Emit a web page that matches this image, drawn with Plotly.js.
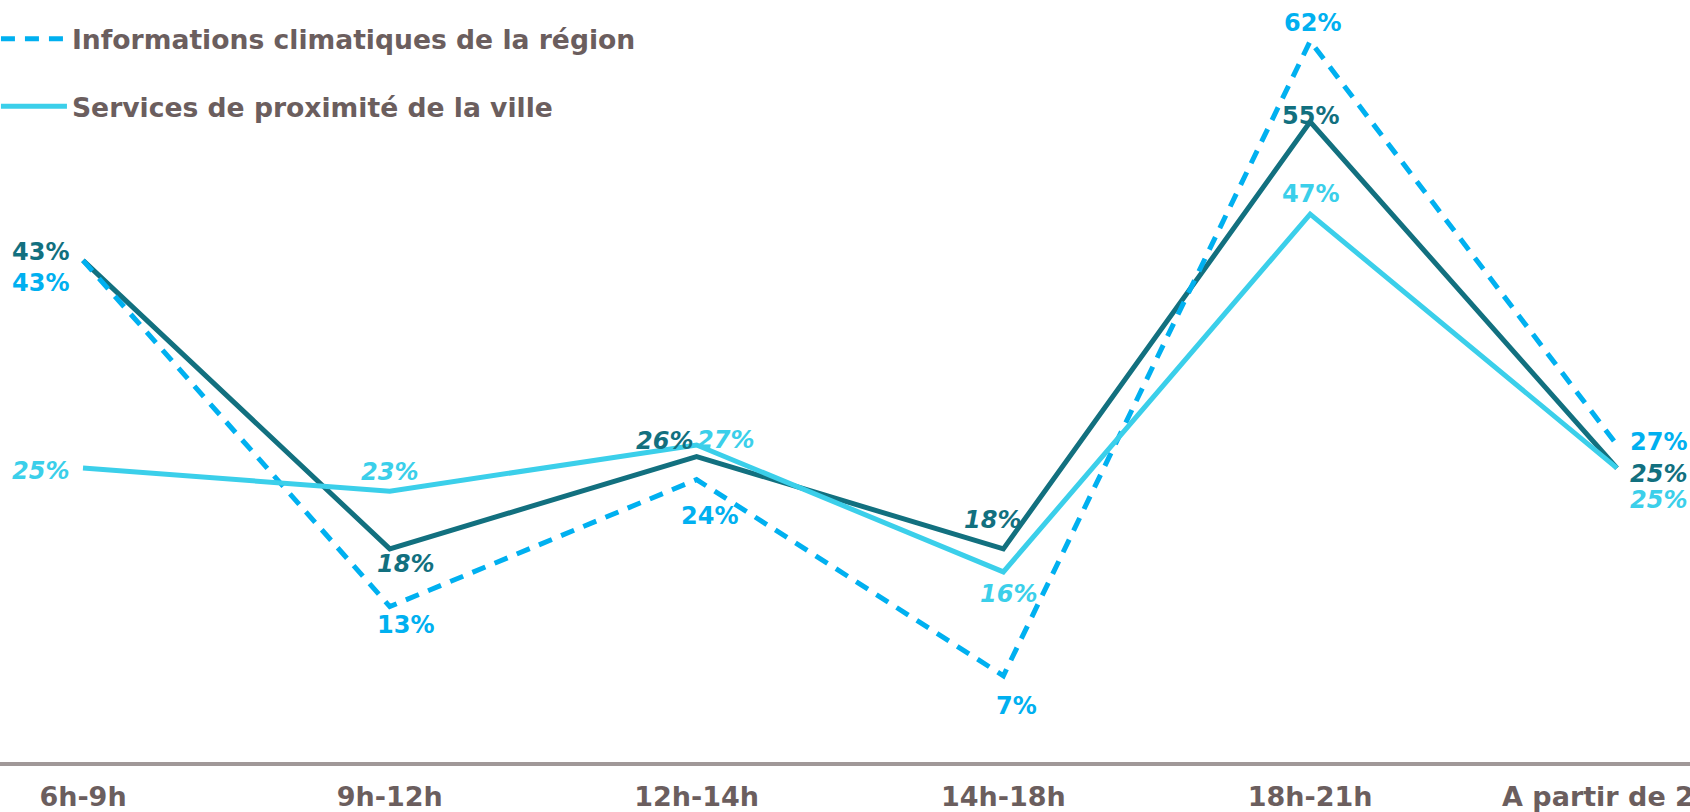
<!DOCTYPE html>
<html>
<head>
<meta charset="utf-8">
<script src="https://cdn.plot.ly/plotly-3.0.1.min.js"></script>
<style>
  html, body { margin: 0; padding: 0; background: #ffffff; }
  #chart { width: 1690px; height: 812px; }
</style>
</head>
<body>
<div id="chart"></div>
<script>
// ---- Data ----
const categories = ["6h-9h", "9h-12h", "12h-14h", "14h-18h", "18h-21h", "A partir de 21h"];

const seriesMainName = "Ensemble";
const seriesMain = [43, 18, 26, 18, 55, 25];
const seriesClimatName = "Informations climatiques de la région";
const seriesClimat = [43, 13, 24, 7, 62, 27];
const seriesServicesName = "Services de proximité de la ville";
const seriesServices = [25, 23, 27, 16, 47, 25];

// ---- Label styling (italic flags, anchors and pixel offsets) ----
const mainItalic = [false, true, true, true, false, true];
const climatItalic = [false, false, false, false, false, false];
const servicesItalic = [true, true, true, true, false, true];
// [xanchor, xshift, yshift]  (yshift > 0 = up)
const mainLabelPos = [["right", -12, 8], ["center", 16, -15], ["center", -32, 16], ["center", -11, 29], ["center", 0, 6], ["left", 11, -6]];
const climatLabelPos = [["right", -12, -23], ["center", 16, -18], ["center", 13, -36], ["center", 13, -30], ["center", 2, 18], ["left", 11, 3]];
const servicesLabelPos = [["right", -12, -3], ["center", 0, 19], ["left", -2, 5], ["center", 5, -22], ["center", 0, 20], ["left", 11, -32]];

// ---- Styles ----
const FONT = "DejaVu Sans, Verdana, sans-serif";
const C_MAIN = "#12707f";
const C_CLIMAT = "#00b0f0";
const C_SERV = "#3bcfea";
const C_TEXT = "#6b5e5e";
const LABEL_SIZE = 24;

function makeLabels(vals, italic, pos, color) {
  return vals.map((v, i) => ({
    x: categories[i], y: v, xref: "x", yref: "y",
    text: italic[i] ? "<i>" + v + "%</i>" : v + "%",
    showarrow: false,
    xanchor: pos[i][0], yanchor: "middle",
    xshift: pos[i][1], yshift: pos[i][2],
    font: { family: FONT, size: LABEL_SIZE, color: color, weight: "bold" }
  }));
}

const traces = [
  {
    x: categories, y: seriesMain, name: seriesMainName, type: "scatter", mode: "lines",
    line: { color: C_MAIN, width: 5 },
    showlegend: false, legendgroup: "a"
  },
  {
    x: categories, y: seriesClimat, name: seriesClimatName, type: "scatter", mode: "lines",
    line: { color: C_CLIMAT, width: 5, dash: "14px,10px" },
    legendgroup: "b"
  },
  {
    x: categories, y: seriesServices, name: seriesServicesName, type: "scatter", mode: "lines",
    line: { color: C_SERV, width: 5 },
    legendgroup: "c"
  }
];

const annotations = []
  .concat(makeLabels(seriesMain, mainItalic, mainLabelPos, C_MAIN))
  .concat(makeLabels(seriesClimat, climatItalic, climatLabelPos, C_CLIMAT))
  .concat(makeLabels(seriesServices, servicesItalic, servicesLabelPos, C_SERV));

const layout = {
  width: 1690, height: 812,
  margin: { l: 0, r: 0, t: 0, b: 50, autoexpand: false },
  paper_bgcolor: "#ffffff", plot_bgcolor: "#ffffff",
  font: { family: FONT, color: C_TEXT },
  showlegend: true,
  legend: {
    x: -0.0024, y: 0.9805, xanchor: "left", yanchor: "top",
    bgcolor: "rgba(0,0,0,0)", borderwidth: 0,
    traceorder: "grouped", tracegroupgap: 30, itemwidth: 66,
    font: { family: FONT, size: 26.6, color: C_TEXT, weight: "bold" }
  },
  annotations: annotations,
  xaxis: {
    type: "category", range: [-0.2705, 5.238],
    showgrid: false, zeroline: false, ticks: "",
    showline: true, linecolor: "#a09898", linewidth: 4,
    tickfont: { family: FONT, size: 27, color: C_TEXT, weight: "bold" },
    ticklabelstandoff: 8, fixedrange: true
  },
  yaxis: {
    range: [-0.47, 65.56], visible: false, showgrid: false, zeroline: false, fixedrange: true
  }
};

Plotly.newPlot("chart", traces, layout, { displayModeBar: false, staticPlot: true });
</script>
</body>
</html>
